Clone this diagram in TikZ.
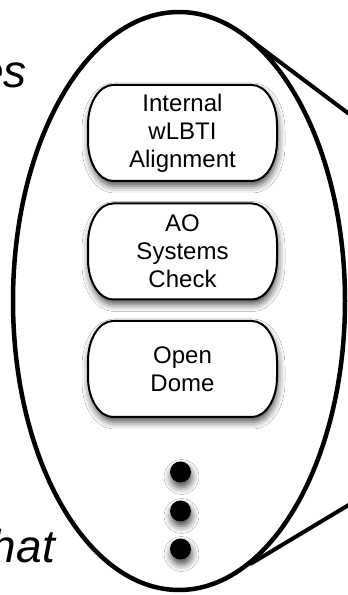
\documentclass[tikz,border=0pt]{standalone}
\usepackage{fontspec}
\setmainfont{Liberation Sans}
\usetikzlibrary{shadows.blur}

% Rounded process box with elliptical corners, centred at (#1,#2)
\newcommand\pillbox[2]{%
  \path[boxline]
    (#1-69.5,#2+48) -- (#1+69.5,#2+48)
    arc[start angle=90,end angle=0,x radius=25,y radius=40]
    -- (#1+94.5,#2-8)
    arc[start angle=0,end angle=-90,x radius=25,y radius=40]
    -- (#1-69.5,#2-48)
    arc[start angle=270,end angle=180,x radius=25,y radius=40]
    -- (#1-94.5,#2+8)
    arc[start angle=180,end angle=90,x radius=25,y radius=40]
    -- cycle;}

\tikzset{
  softshadow/.style={blur shadow={shadow xshift=1pt,shadow yshift=-5pt,
      shadow blur radius=7pt,shadow opacity=70}},
  boxline/.style={draw=black,line width=2pt,fill=white,softshadow},
  boxtext/.style={align=center,inner sep=0pt,
      font=\fontsize{24}{28}\selectfont},
  bigtext/.style={inner sep=0pt,font=\fontsize{46}{50}\selectfont\itshape},
  callout/.style={line width=4pt,line cap=round},
  dotmark/.style={circle,fill=black,minimum size=21pt,inner sep=0pt,softshadow},
}

\begin{document}
\begin{tikzpicture}[x=1pt,y=1pt]
\useasboundingbox (0,0) rectangle (348,595);
\clip (0,0) rectangle (348,595);
\fill[white] (0,0) rectangle (348,595);

% fragments of the surrounding text
\node[bigtext,anchor=base east] (txtes) at (27,507) {es};
\node[bigtext,anchor=base east] (txthat) at (55,32) {hat};

% zoom outline
\draw[line width=4.5pt] (179,294) ellipse[x radius=166,y radius=289];
\coordinate (ctop) at (244.7,559.4);
\coordinate (ctopend) at (360,472.9);
\coordinate (cbot) at (251,31.4);
\coordinate (cbotend) at (360,96.8);
\draw[callout] (ctop) -- (ctopend);
\draw[callout] (cbot) -- (cbotend);

% process steps
\pillbox{182.5}{462}
\node[boxtext] (align) at (182.5,462) {Internal\\wLBTI\\Alignment};
\pillbox{182.5}{343.5}
\node[boxtext] (aocheck) at (182.5,343.5) {AO\\Systems\\Check};
\pillbox{182.5}{226}
\node[boxtext] (dome) at (182.5,226) {Open\\Dome};

% continuation dots
\node[dotmark] (dot1) at (180.5,123) {};
\node[dotmark] (dot2) at (180.5,84) {};
\node[dotmark] (dot3) at (180.5,46) {};
\end{tikzpicture}
\end{document}
